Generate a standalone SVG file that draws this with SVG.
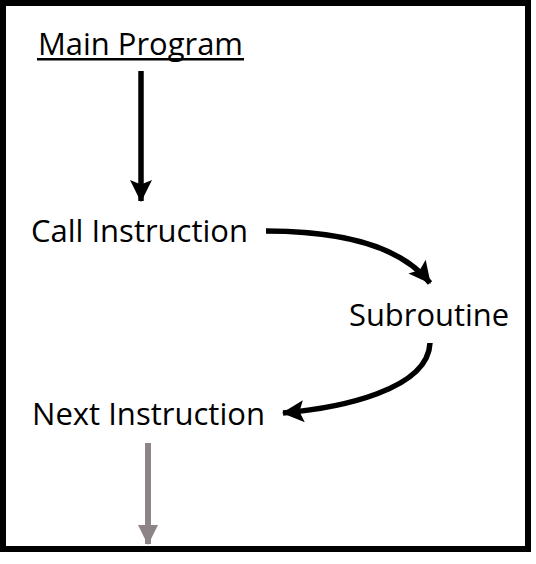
<svg xmlns="http://www.w3.org/2000/svg" width="536" height="564" viewBox="0 0 536 564">
<style>
.t{font-family:"Open Sans","Liberation Sans",sans-serif;font-size:31px;fill:#000}
.c{fill:none;stroke:#000;stroke-width:5.5}
</style>
<defs>
<marker id="ah" markerUnits="userSpaceOnUse" markerWidth="22" markerHeight="22" refX="19" refY="10" orient="auto" viewBox="0 0 20 20">
<path d="M0,0 L20,10 L0,20 L4,10 Z" fill="#000"/>
</marker>
<marker id="ahg" markerUnits="userSpaceOnUse" markerWidth="20" markerHeight="20" refX="17" refY="9" orient="auto" viewBox="0 0 18 18">
<path d="M0,0 L18,9 L0,18 Z" fill="#8c8486"/>
</marker>
</defs>
<rect x="3" y="3" width="525" height="546" fill="#fff" stroke="#000" stroke-width="6"/>
<g id="main">
<text class="t" x="38" y="55" textLength="205" lengthAdjust="spacingAndGlyphs">Main Program</text>
<rect x="37" y="58" width="207" height="2.5" fill="#000"/>
</g>
<g id="call"><text class="t" x="31" y="242" textLength="217" lengthAdjust="spacingAndGlyphs">Call Instruction</text></g>
<g id="sub"><text class="t" x="349" y="326" textLength="160" lengthAdjust="spacingAndGlyphs">Subroutine</text></g>
<g id="next"><text class="t" x="32" y="425" textLength="233" lengthAdjust="spacingAndGlyphs">Next Instruction</text></g>
<g id="connectors">
<path class="c" d="M141,71 L141,201" marker-end="url(#ah)"/>
<path class="c" d="M266,231 C340,231 400,245 430,283" marker-end="url(#ah)"/>
<path class="c" d="M430,343 C428,390 340,408 283,413" marker-end="url(#ah)"/>
<path d="M148,443 L148,544" fill="none" stroke="#8c8486" stroke-width="6" marker-end="url(#ahg)"/>
</g>
</svg>
